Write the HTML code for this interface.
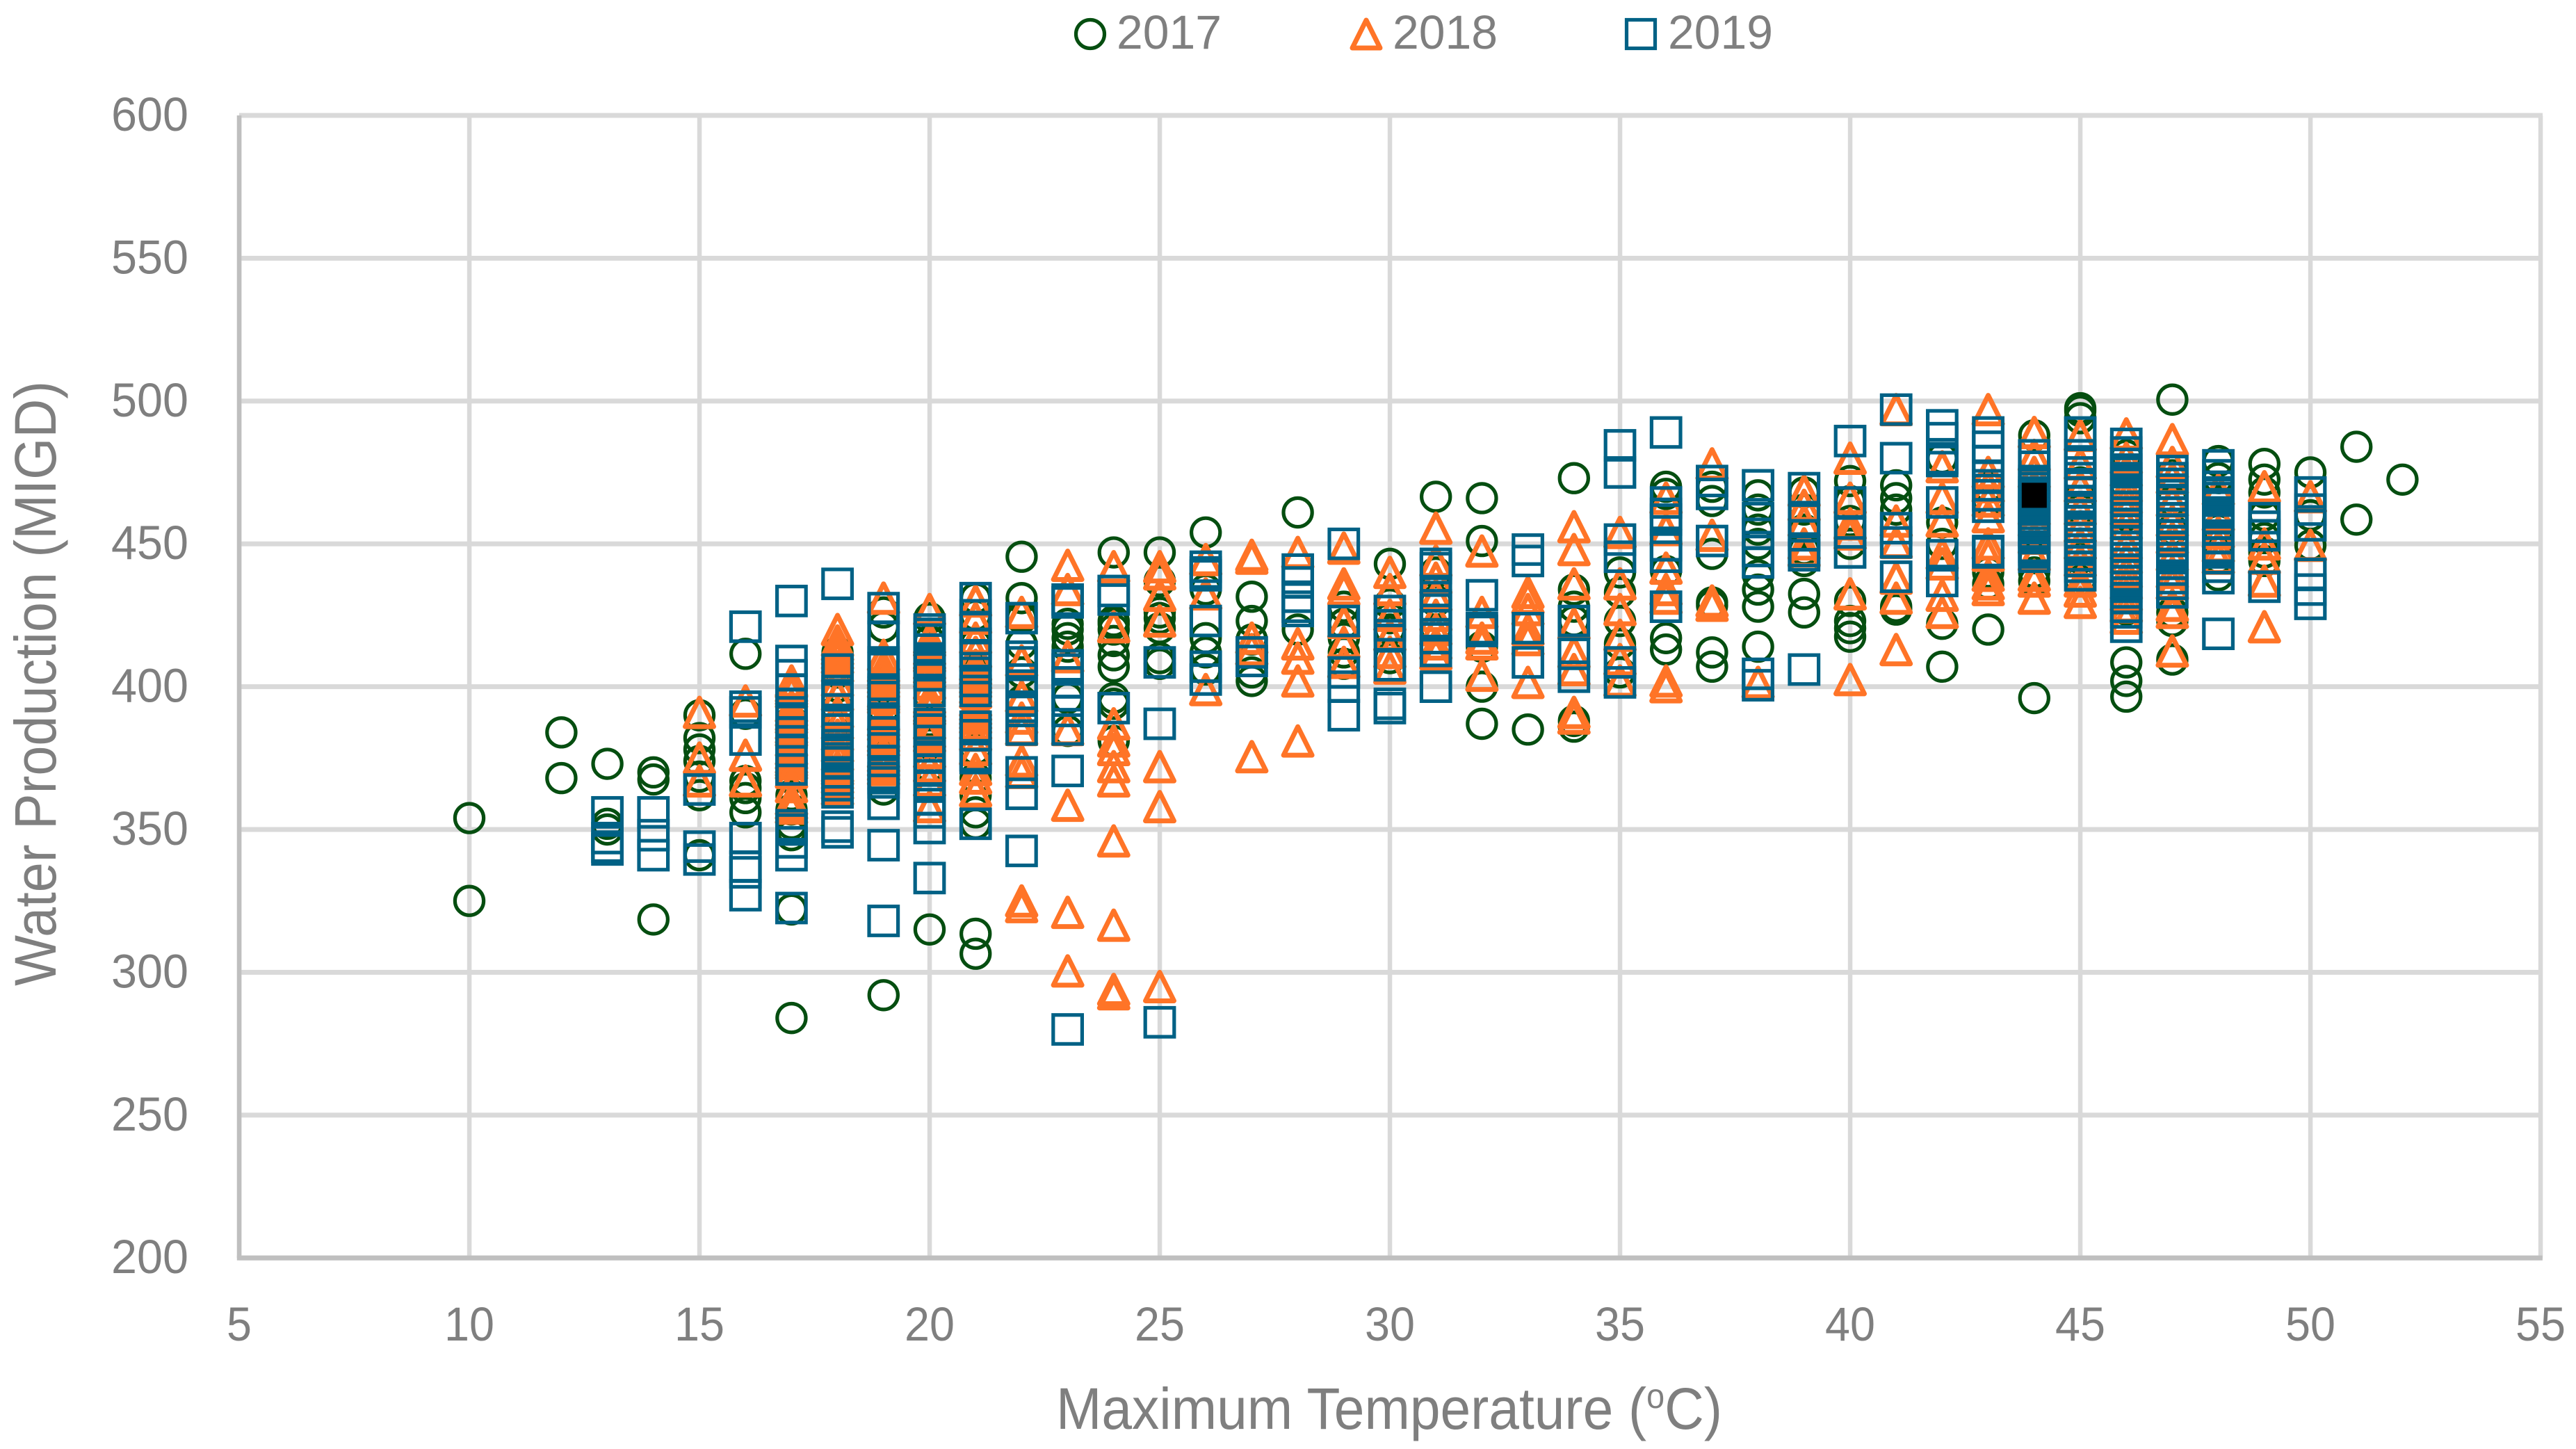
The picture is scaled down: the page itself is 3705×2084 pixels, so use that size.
<!DOCTYPE html>
<html lang="en">
<head>
<meta charset="utf-8">
<title>Water Production vs Maximum Temperature</title>
<style>
html,body{margin:0;padding:0;background:#fff;}
svg{display:block;}
text{font-family:"Liberation Sans",sans-serif;fill:#7f7f7f;}
</style>
</head>
<body>
<svg id="chart" xmlns="http://www.w3.org/2000/svg" width="3705" height="2084" viewBox="0 0 3705 2084">
  <rect x="0" y="0" width="3705" height="2084" fill="#ffffff"/>
  <g id="grid"></g>
  <g id="ticks"></g>
  <g id="marks2017"></g>
  <g id="marks2018"></g>
  <g id="marks2019"></g>
  <g id="marksBlack"></g>
  <text transform="translate(80,983) rotate(-90)" text-anchor="middle" font-size="84" textLength="870" lengthAdjust="spacingAndGlyphs">Water Production (MIGD)</text>
  <text x="1998" y="2055" text-anchor="middle" font-size="84" textLength="958" lengthAdjust="spacingAndGlyphs">Maximum Temperature (<tspan font-size="50" dy="-30">o</tspan><tspan dy="30">C)</tspan></text>
  <g>
    <g>
      <circle cx="1568" cy="49" r="20.5" fill="none" stroke="#054e10" stroke-width="5.2"/>
      <text x="1606" y="70" font-size="69" textLength="151" lengthAdjust="spacingAndGlyphs">2017</text>
    </g>
    <g>
      <polygon points="1965,29 1985,69 1945,69" fill="none" stroke="#ff7427" stroke-width="7" stroke-linejoin="round"/>
      <text x="2003" y="70" font-size="69" textLength="151" lengthAdjust="spacingAndGlyphs">2018</text>
    </g>
    <g>
      <rect x="2339.5" y="28.5" width="41" height="41" fill="none" stroke="#006185" stroke-width="5.2"/>
      <text x="2399" y="70" font-size="69" textLength="151" lengthAdjust="spacingAndGlyphs">2019</text>
    </g>
  </g>
</svg>
<script>
const xTicks = [5,10,15,20,25,30,35,40,45,50,55];
const yTicks = [200,250,300,350,400,450,500,550,600];

const temps2017 = [10,12,13,14,15,16,17,18,19,20,21,22,23,24,25,26,27,28,29,30,31,32,33,34,35,36,37,38,39,40,41,42,43,44,45,46,47,48,49,50,51,52];
const production2017 = [
 [354,325],
 [384,368],
 [373,352,350],
 [370,367.5,318.5],
 [390,382,378,374,368.5,362,341],
 [411.5,390.5,367,364.5,361,356],
 [388,384,380,374,368,362,357,352,350,348,322,284],
 [412,405,400,392,386,380,375,370,365],
 [426,421,400,392,385,378,371,364,292],
 [424,416,408,396,388,380,372,315],
 [431,425,415,405,395,385,378,368,362,356,352,313.5,306.5],
 [445.5,431,424,415,405,395],
 [422,420,417,414,396,384.5],
 [447,423,422,420,416,411,407,396,394,381],
 [447,437,426,424,420.5,410,408],
 [454,434,417,412,406],
 [431.5,423,416.5,405,402],
 [461,420],
 [428,422,417,412,408],
 [443,429,424,420,410],
 [466.5,440,430,420],
 [466,451,414,400,387],
 [385],
 [473,434,428,423,388,386],
 [440,433,423,415,405],
 [470,467.5,440.5,417,413],
 [470,465,446.5,429.5,428.5,412,407],
 [467,462,455,450,439,434,428,414],
 [468,462,455,448,444,432.5,426],
 [472,465,458,450,430,423,420.5,417.5],
 [470.5,466,462,428,427],
 [480,457.5,450,422,407],
 [470,465,440,436,420],
 [488,470,445,440,437,396],
 [497.5,496.5,494,471.5,462,445,437],
 [481,470,460,427,408.5,402,396.5],
 [500.5,474,465,455,426,423,409.5],
 [479,473,465,455,445,439],
 [478,472.5,468,460,452,447,444],
 [475,460,449.5],
 [484,458.5],
 [472.5]
];

const temps2018 = [15,16,17,18,19,20,21,22,23,24,25,26,27,28,29,30,31,32,33,34,35,36,37,38,39,40,41,42,43,44,45,46,47,48,49,50];
const production2018 = [
 [391,375,367],
 [395,376,367],
 [402,401.5,400,399,398,393,391.5,390,389,387,385.5,384.5,381,378,376.5,375,374,373,370,365,360.5,359,357.5],
 [420,416,414.5,413,411.5,410,407,402,397,391,387,383,379,376,372,371,369.5,368,366,364],
 [431,411,407,405.5,404.5,403,401.5,398,397,396,390,388,386.5,384,382.5,381,377,375.5,374,372.5,371],
 [427,417,416,413,411.5,410.5,408,406.5,405,401,396,394.5,393,392,387,384,382.5,377,372,367,358],
 [430,424,417,412,407.5,406,404.5,403,401.5,399.5,398,395,393.5,392,390.5,389,387,383,378,371,368,363.5],
 [426,409,396.5,389,385,374,370,325,323],
 [442.5,434,410.5,385,358.5,321,300.5],
 [442,421,387,381,378,372,367,346,316.5,294,292.5],
 [442,439.5,432,423,372,358,295],
 [444.5,432.5,399],
 [446,445,417,413,375.5],
 [447,415,410,402,381],
 [448.5,436,434,422.5,415.5,408.5],
 [440,434,425,418,412,406.5],
 [455.5,444,438,432,425,420,415,411.5],
 [447.5,426,417,415,404],
 [433,431,427,420,416.5,401.5],
 [456,448,436,422,412,406,391,389],
 [454,436,427,418,409.5,402],
 [466,455,441.5,434,431,402,400],
 [478,453,430,428.5],
 [401.5],
 [468.5,463.5,458,450,447.5],
 [480,466,457,453.5,432.5,402.5],
 [497,458,450.5,438,431,413],
 [477,466,458,446.5,443,432,426],
 [497,475,470,465,459.5,450,446,439,436,434],
 [489,481,475,470,462,458,452,446,439,437,431],
 [488,478,470,462,456,450,444,437,433.5,429.5],
 [488.5,480,475.5,470,466,462,457,450,445,440,436,432,428,424],
 [486.5,478.5,473,465,458,452,446,440,436,428.5,426,412.5],
 [469,460,454,449,445],
 [470,450,445,437,421],
 [466.5,449.5]
];

const temps2019 = [13,14,15,16,17,18,19,20,21,22,23,24,25,26,27,28,29,30,31,32,33,34,35,36,37,38,39,40,41,42,43,44,45,46,47,48,49,50];
const production2019 = [
 [356,347,344,343],
 [356,348,341],
 [364,344,339.5],
 [421,393,391,381.5,347,337,335,327],
 [430,409,404,399,394,391,388,384,377.5,371,351.5,350,345.5,341,322.5],
 [436,406,398.5,397,392,387.5,385,379.5,378,376.5,373.5,370,367.5,365.5,363,351,349],
 [427.5,417.5,408.5,406.5,399,398,390.5,388.5,384,380.5,374,369.5,368,366.5,359,344.5,318],
 [420,418.5,416.5,413,409,407.5,404,398.5,387,385,381,375.5,371,369,365,360.5,356,350.5,333],
 [431,425,420.5,415,411,406.5,402,398.5,386,383,376,375,352],
 [424,410.5,408.5,402.5,397.5,393,391.5,385,370,362.5,342.5],
 [430.5,429.5,407.5,406,401.5,397,391.5,385,370.5,280],
 [433.5,430.5,392.5],
 [408.5,387,282.5],
 [442,440,439,423,407,402.5],
 [412,409],
 [441,436.5,431.5,428,426.5],
 [450,423,405,400,390],
 [426.5,421.5,418,407.5,394,392.5],
 [443,441.5,433.5,428.5,427,421.5,417,412.5,400],
 [432,420.5,419.5],
 [448,444,420.5,408.5],
 [423,411.5,403.5],
 [484.5,475,451.5,445.5,408.5,401.5],
 [489,464.5,460.5,458.5,449.5,445.5,428],
 [472,467.5,451],
 [470.5,459,453.5,447.5,443.5,404.5,400.5],
 [469.5,458.5,453,447.5,446,406],
 [486,464.5,454,447],
 [497,480,455.5,450.5,438.5],
 [491.5,487,480,479,464.5,446,437],
 [489,484,479,473.5,470.5,467,463,447.5,447],
 [481,477,472,471,469.5,468,467,465.5,464.5,463,462,460.5,459,458,456.5,455.5,454,453,452,449,448,447,445.5],
 [489,481,478,475,473,470,468,465,462,460,458,456,454,452,450,448,446,444,442,439],
 [485,482,478,476,473,471,469,467,465,463,461,459,457,455,453,451,449,447,445,443,441,439,437,435,433,431,428,426,421],
 [475.5,473,471,469,467,465,463,461,459,457,455,453,451,449,447,445,443,441,438,436,433],
 [477.5,474,470,468,466,463,461,459,457,455,452,449,447,445,442,438,418.5],
 [459,456,453,435],
 [468,462,456.5,439.5,434,429]
];

const highlightTemp = [44];
const highlightProduction = [467];

const NS = "http://www.w3.org/2000/svg";
function xScale(t){ return 344 + (t - 5) * 66.2; }
function yScale(v){ return 166 + (600 - v) * 4.108; }
function make(tag, parentId){
  const el = document.createElementNS(NS, tag);
  document.getElementById(parentId).appendChild(el);
  return el;
}

yTicks.forEach(function(v){
  const line = make("rect", "grid");
  
  
  line.setAttribute("x", xScale(5));
  line.setAttribute("y", yScale(v) - 3.5);
  line.setAttribute("width", xScale(55) - xScale(5) + 3);
  line.setAttribute("height", 7);
  line.setAttribute("fill", "#d9d9d9");
  const label = make("text", "ticks");
  
  
  label.setAttribute("x", 271);
  label.setAttribute("y", yScale(v) + 22);
  label.setAttribute("text-anchor", "end");
  label.setAttribute("font-size", 69);
  label.setAttribute("textLength", String(v).length * 37);
  label.setAttribute("lengthAdjust", "spacingAndGlyphs");
  label.textContent = v;
});

xTicks.forEach(function(t){
  const line = make("rect", "grid");
  
  
  line.setAttribute("x", xScale(t) - 3.2);
  line.setAttribute("y", yScale(600));
  line.setAttribute("width", 6.5);
  line.setAttribute("height", yScale(200) - yScale(600));
  line.setAttribute("fill", "#d9d9d9");
  const label = make("text", "ticks");
  
  
  label.setAttribute("x", xScale(t));
  label.setAttribute("y", 1928);
  label.setAttribute("text-anchor", "middle");
  label.setAttribute("font-size", 69);
  label.setAttribute("textLength", String(t).length * 36);
  label.setAttribute("lengthAdjust", "spacingAndGlyphs");
  label.textContent = t;
});

const leftAxis = make("rect", "grid");


leftAxis.setAttribute("x", xScale(5) - 3.2);
leftAxis.setAttribute("y", yScale(600));
leftAxis.setAttribute("width", 6.5);
leftAxis.setAttribute("height", yScale(200) - yScale(600));
leftAxis.setAttribute("fill", "#bfbfbf");

const bottomAxis = make("rect", "grid");


bottomAxis.setAttribute("x", xScale(5) - 3.2);
bottomAxis.setAttribute("y", yScale(200) - 3.5);
bottomAxis.setAttribute("width", xScale(55) - xScale(5) + 6);
bottomAxis.setAttribute("height", 7);
bottomAxis.setAttribute("fill", "#bfbfbf");

temps2017.forEach(function(t, i){
  production2017[i].forEach(function(v){
    const c = make("circle", "marks2017");
    
    
    c.setAttribute("cx", xScale(t));
    c.setAttribute("cy", yScale(v));
    c.setAttribute("r", 20.6);
    c.setAttribute("fill", "none");
    c.setAttribute("stroke", "#054e10");
    c.setAttribute("stroke-width", 5.2);
  });
});

temps2018.forEach(function(t, i){
  production2018[i].forEach(function(v){
    const p = make("polygon", "marks2018");
    
    
    const cx = xScale(t), cy = yScale(v), h = 20.5;
    p.setAttribute("points", cx + "," + (cy - h) + " " + (cx + h) + "," + (cy + h) + " " + (cx - h) + "," + (cy + h));
    p.setAttribute("fill", "none");
    p.setAttribute("stroke", "#ff7427");
    p.setAttribute("stroke-width", 7);
    p.setAttribute("stroke-linejoin", "round");
  });
});

temps2019.forEach(function(t, i){
  production2019[i].forEach(function(v){
    const r = make("rect", "marks2019");
    
    
    r.setAttribute("x", xScale(t) - 20.8);
    r.setAttribute("y", yScale(v) - 20.8);
    r.setAttribute("width", 41.6);
    r.setAttribute("height", 41.6);
    r.setAttribute("fill", "none");
    r.setAttribute("stroke", "#006185");
    r.setAttribute("stroke-width", 5.2);
  });
});

highlightTemp.forEach(function(t, i){
  const b = make("rect", "marksBlack");
  
  
  b.setAttribute("x", xScale(t) - 18);
  b.setAttribute("y", yScale(highlightProduction[i]) - 18);
  b.setAttribute("width", 36);
  b.setAttribute("height", 36);
  b.setAttribute("fill", "#000000");
});
</script>
</body>
</html>
